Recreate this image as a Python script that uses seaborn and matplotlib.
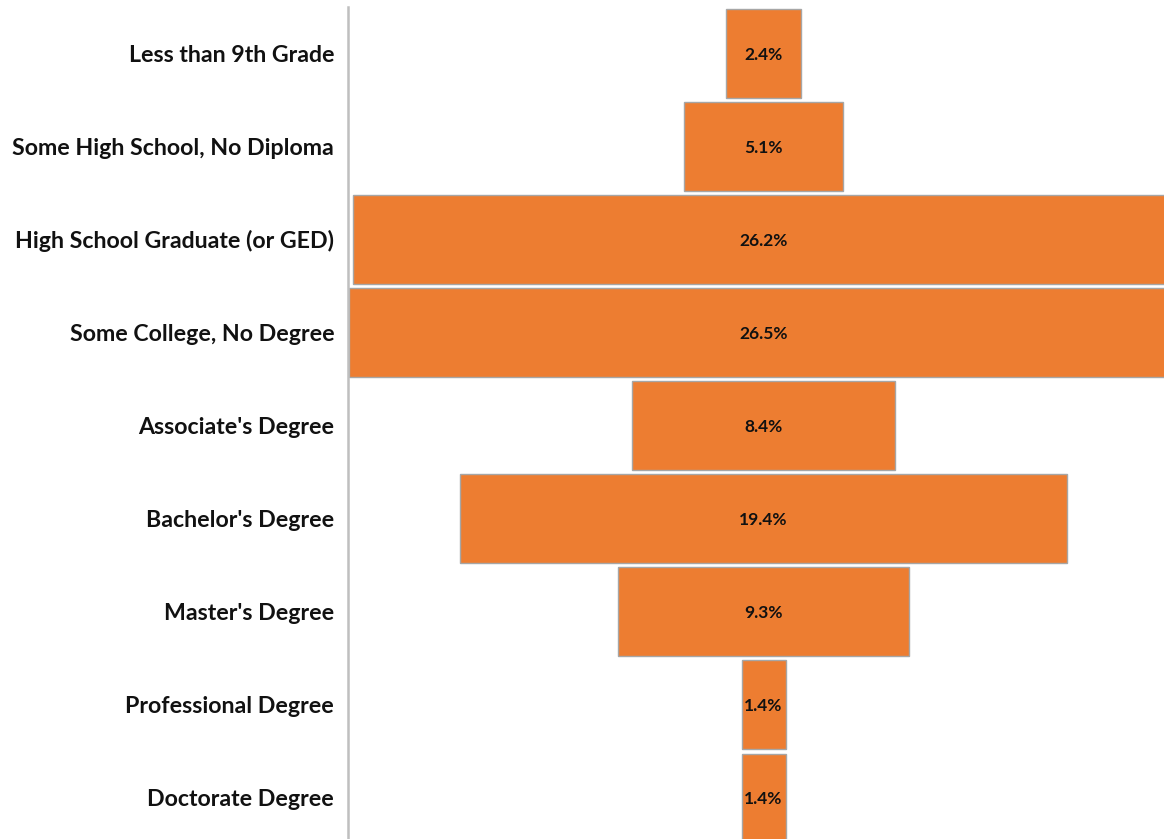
import matplotlib
matplotlib.use("Agg")
import matplotlib.pyplot as plt
import seaborn as sns
import pandas as pd

categories = ["Less than 9th Grade", "Some High School, No Diploma",
              "High School Graduate (or GED)", "Some College, No Degree",
              "Associate's Degree", "Bachelor's Degree", "Master's Degree",
              "Professional Degree", "Doctorate Degree"]
values = [2.4, 5.1, 26.2, 26.5, 8.4, 19.4, 9.3, 1.4, 1.4]
labels = ["2.4%", "5.1%", "26.2%", "26.5%", "8.4%", "19.4%", "9.3%", "1.4%", "1.4%"]

sns.set_theme(style="white")
plt.rcParams['font.family'] = ['Lato', 'DejaVu Sans']

df = pd.DataFrame({"cat": categories, "val": values})

fig = plt.figure(figsize=(11.64, 8.39), dpi=100)
ax = fig.add_axes([0.299, -0.0066, 0.714, 0.9988])
sns.barplot(data=df, x="val", y="cat", orient="h", color="#ED7D31",
            saturation=1, edgecolor="#A6A6A6", linewidth=1.0, width=0.955, ax=ax)

for p, lab in zip(ax.patches, labels):
    w = p.get_width()
    p.set_x(-w / 2)
    ax.text(0, p.get_y() + p.get_height() / 2, lab, ha="center", va="center_baseline",
            fontsize=12.5, fontweight="bold", color="#111111")

ax.set_xlim(-13.27, 13.27)
ax.set_ylim(8.5, -0.5)
ax.set_xlabel("")
ax.set_ylabel("")
ax.set_xticks([])
ax.tick_params(axis="y", length=0, pad=10, labelsize=16.7)
for t in ax.get_yticklabels():
    t.set_fontweight("bold")
    t.set_color("#111111")
for s in ["top", "right", "bottom"]:
    ax.spines[s].set_visible(False)
ax.spines["left"].set_color("#BFBFBF")
ax.spines["left"].set_linewidth(1.8)

fig.savefig("out.png", dpi=100, facecolor="white")
